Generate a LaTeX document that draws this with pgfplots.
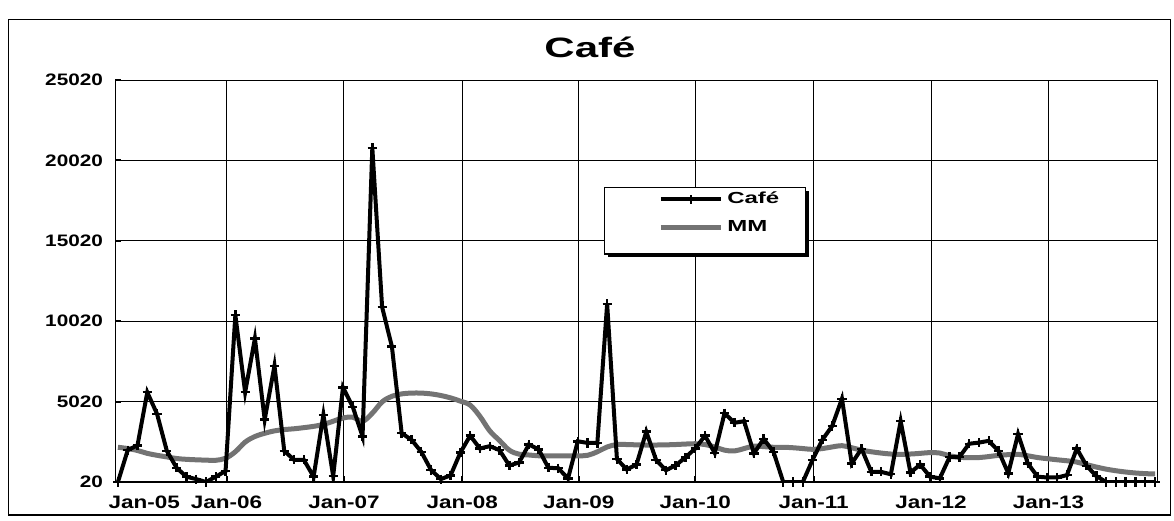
\documentclass[border=0pt]{standalone}
\usepackage{pgfplots}
\pgfplotsset{compat=1.18}
\usepackage{pgfplotstable}
\usepackage{fontspec}
\setmainfont{Liberation Sans}
\newfontfamily\wideA[FakeStretch=1.25]{Liberation Sans}
\newfontfamily\wideB[FakeStretch=1.5]{Liberation Sans}
\definecolor{mmgray}{RGB}{115,115,115}
\pgfplotsset{
  mmleg/.style={legend image code/.code={\draw[##1] (0pt,0pt) -- (30pt,0pt);}},
  cafeleg/.style={legend image code/.code={\draw[##1] (0pt,0pt) -- (30pt,0pt); \draw[black,line width=1pt] (15pt,-2.2pt) -- (15pt,2.2pt);}},
}

\pgfplotstableread{
x cafe mm
0 20 2180
1 2000 2100
2 2300 1980
3 5600 1800
4 4250 1680
5 1950 1580
6 900 1480
7 350 1430
8 200 1400
9 20 1380
10 350 1370
11 700 1500
12 10400 1900
13 5600 2500
14 8950 2850
15 3900 3050
16 7250 3200
17 1950 3280
18 1400 3330
19 1400 3400
20 350 3480
21 4200 3600
22 380 3800
23 5900 4000
24 4700 4050
25 2850 3800
26 20800 4300
27 10900 5000
28 8450 5350
29 3050 5500
30 2650 5550
31 1900 5550
32 770 5500
33 200 5400
34 430 5250
35 1850 5050
36 2900 4800
37 2100 4100
38 2250 3200
39 2000 2600
40 1050 2000
41 1230 1750
42 2350 1700
43 2050 1650
44 900 1650
45 880 1650
46 240 1650
47 2550 1650
48 2450 1680
49 2450 1900
50 11100 2200
51 1450 2350
52 800 2350
53 1100 2330
54 3150 2320
55 1400 2320
56 750 2330
57 1050 2350
58 1550 2380
59 2100 2400
60 2900 2350
61 1820 2200
62 4300 2000
63 3700 1950
64 3800 2100
65 1800 2250
66 2700 2220
67 1900 2180
68 20 2180
69 20 2150
70 20 2100
71 1400 2050
72 2650 2100
73 3500 2200
74 5200 2280
75 1170 2150
76 2090 2000
77 650 1900
78 650 1820
79 500 1760
80 3800 1740
81 610 1760
82 1100 1800
83 350 1850
84 250 1820
85 1570 1650
86 1570 1560
87 2400 1530
88 2470 1540
89 2580 1600
90 1950 1680
91 560 1720
92 3000 1740
93 1170 1650
94 350 1540
95 300 1470
96 300 1400
97 450 1340
98 2100 1260
99 1030 1100
100 390 950
101 20 820
102 20 720
103 20 640
104 20 580
105 20 540
106 20 520
}\datatable

\begin{document}
\begin{tikzpicture}
\useasboundingbox (0,0) rectangle (587pt,260pt);
\draw[line width=0.5pt] (4pt,2.5pt) rectangle (585pt,250pt);
\begin{axis}[
  at={(57.5pt,19pt)}, anchor=south west,
  scale only axis, width=521pt, height=201pt,
  xmin=-0.3, xmax=106.2, ymin=20, ymax=25020,
  scaled y ticks=false,
  xtick={11.1,23.1,35.2,47.1,59.0,71.1,83.1,95.1},
  xticklabels={Jan-06,Jan-07,Jan-08,Jan-09,Jan-10,Jan-11,Jan-12,Jan-13},
  extra x ticks={2.7}, extra x tick labels={Jan-05},
  extra x tick style={xmajorgrids=false, major tick length=0pt},
  ytick={20,5020,10020,15020,20020,25020},
  yticklabels={20,5020,10020,15020,20020,25020},
  grid=major, major grid style={black, line width=0.45pt},
  axis line style={black, line width=0.5pt},
  tick pos=left, major tick length=3pt, tick style={black, line width=1pt},
  xticklabel style={font=\wideA\bfseries\fontsize{9}{11}\selectfont, yshift=-3.5pt},
  yticklabel style={font=\wideA\bfseries\fontsize{8.3}{10}\selectfont, xshift=-2.5pt},
  legend cell align=left,
  reverse legend,
  legend style={at={(0.521,0.728)}, anchor=north west, draw=none, fill=none,
    inner sep=0pt, font=\wideB\bfseries\fontsize{8}{9.5}\selectfont, row sep=5pt,
    nodes={inner xsep=2pt, inner ysep=1pt}},
]
\fill[black] ([xshift=1.6pt,yshift=-1.6pt]rel axis cs:0.470,0.733) rectangle ([xshift=1.6pt,yshift=-1.6pt]rel axis cs:0.663,0.567);
\filldraw[fill=white, draw=black, line width=0.6pt] (rel axis cs:0.470,0.733) rectangle (rel axis cs:0.663,0.567);
\addplot[mmgray, line width=2.5pt, smooth, tension=0.6, mmleg]
  table[x=x, y=mm] {\datatable};
\addlegendentry{MM}
\addplot[black, line width=2pt, mark=+, mark size=2.3pt, mark options={line width=1.2pt}, cafeleg]
  table[x=x, y=cafe] {\datatable};
\addlegendentry{Café}
\draw[black, line width=1.4pt] (rel axis cs:0,1) -- (rel axis cs:0,0) -- (rel axis cs:1,0);
\end{axis}
\node[font=\wideB\bfseries\fontsize{14}{16}\selectfont] at (295pt,236.5pt) {Café};
\end{tikzpicture}
\end{document}
